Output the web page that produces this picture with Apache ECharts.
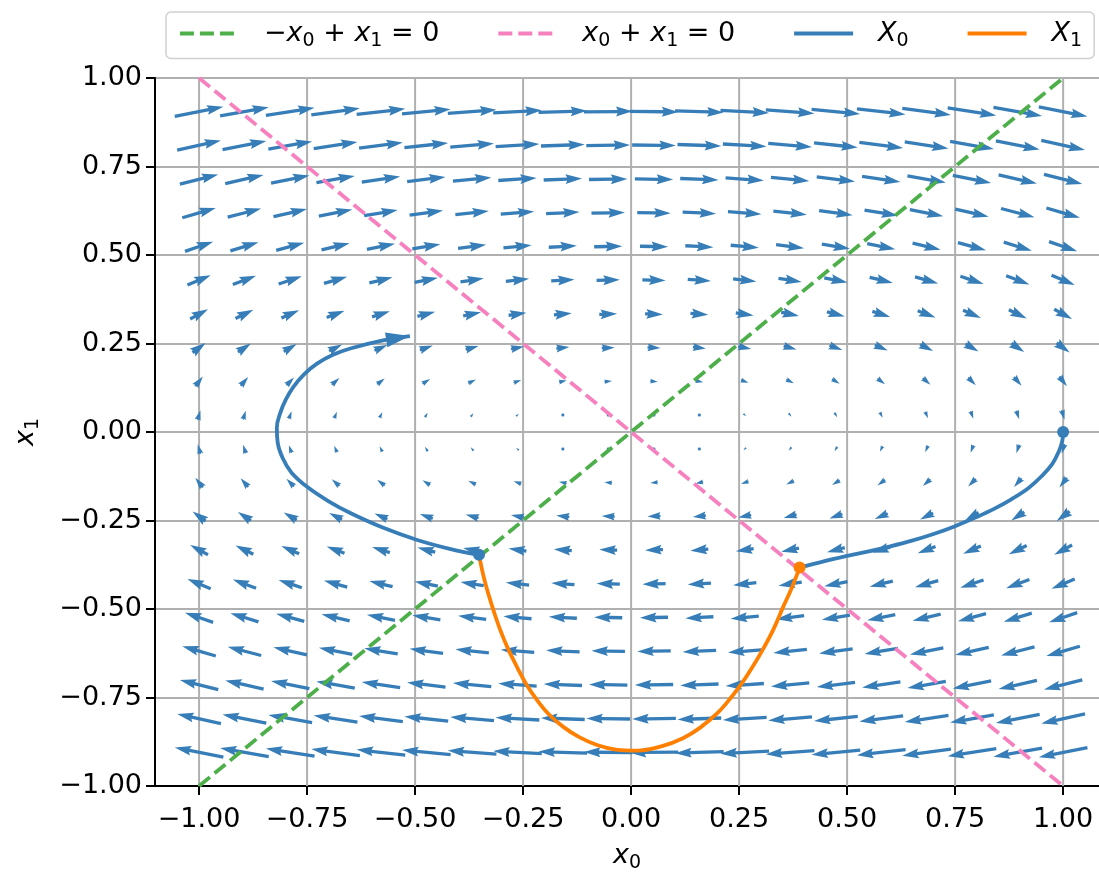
<!DOCTYPE html>
<html>
<head>
<meta charset="utf-8">
<script src="https://cdn.jsdelivr.net/npm/echarts@6/dist/echarts.min.js"></script>
<style>
  html, body { margin: 0; padding: 0; background: #fff; }
  #chart { width: 1099px; height: 873px; }
</style>
</head>
<body>
<div id="chart"></div>
<script>
// ---------- data ----------
// quiver grid (x0 columns, x1 rows)
const gridX0 = [-1.000, -0.895, -0.789, -0.684, -0.579, -0.474, -0.368, -0.263, -0.158, -0.053,
                 0.053,  0.158,  0.263,  0.368,  0.474,  0.579,  0.684,  0.789,  0.895,  1.000];
const gridX1 = [0.905, 0.810, 0.714, 0.619, 0.524, 0.429, 0.333, 0.238, 0.143, 0.048,
               -0.048, -0.143, -0.238, -0.333, -0.429, -0.524, -0.619, -0.714, -0.810, -0.905];
// horizontal component of arrows, per row (top to bottom)
const uByRow = [0.90, 0.81, 0.71, 0.62, 0.52, 0.43, 0.33, 0.24, 0.14, 0.05,
               -0.05, -0.14, -0.24, -0.33, -0.43, -0.52, -0.62, -0.71, -0.81, -0.90];
// vertical component of arrows, per column (left to right)
const vByCol = [0.180, 0.161, 0.142, 0.123, 0.104, 0.085, 0.066, 0.047, 0.028, 0.010,
               -0.010, -0.028, -0.047, -0.066, -0.085, -0.104, -0.123, -0.142, -0.161, -0.180];

// nullclines
const lineA = [[-1, -1], [1, 1]];   // -x0 + x1 = 0
const lineB = [[-1, 1], [1, -1]];   //  x0 + x1 = 0

// trajectories
const X0first = [[1.0, 0.0], [0.998, -0.025], [0.99, -0.055], [0.975, -0.09], [0.95, -0.125],
  [0.92, -0.158], [0.88, -0.19], [0.84, -0.217], [0.8, -0.24], [0.75, -0.266], [0.7, -0.288],
  [0.65, -0.307], [0.6, -0.323], [0.55, -0.337], [0.5, -0.35], [0.45, -0.364], [0.39, -0.383]];
const X1path = [[0.39, -0.383], [0.372, -0.44], [0.352, -0.494], [0.33, -0.556], [0.306, -0.612],
  [0.282, -0.662], [0.259, -0.705], [0.23, -0.752], [0.199, -0.795], [0.16, -0.835],
  [0.12, -0.865], [0.07, -0.888], [0.014, -0.9], [-0.035, -0.897], [-0.079, -0.884],
  [-0.12, -0.862], [-0.157, -0.833], [-0.19, -0.798], [-0.218, -0.757], [-0.243, -0.712],
  [-0.264, -0.664], [-0.285, -0.612], [-0.303, -0.559], [-0.318, -0.506], [-0.331, -0.455],
  [-0.342, -0.405], [-0.352, -0.347]];
const X0second = [[-0.352, -0.347], [-0.42, -0.33], [-0.495, -0.305], [-0.575, -0.27],
  [-0.65, -0.229], [-0.70, -0.196], [-0.75, -0.155], [-0.786, -0.115], [-0.806, -0.075],
  [-0.818, -0.03], [-0.82, 0.012], [-0.812, 0.054], [-0.799, 0.092], [-0.782, 0.127],
  [-0.757, 0.163], [-0.727, 0.193], [-0.69, 0.218], [-0.65, 0.236], [-0.574, 0.259],
  [-0.512, 0.271]];
const X0starts = [[1.0, 0.0], [-0.352, -0.347]];
const X1starts = [[0.39, -0.383]];

const tickVals = [-1, -0.75, -0.5, -0.25, 0, 0.25, 0.5, 0.75, 1];

// ---------- styling ----------
const BLUE = '#377eb8', ORANGE = '#ff7f00', GREEN = '#4daf4a', PINK = '#f781bf';
const FONT = 'DejaVu Sans';
const SCALE = 54;     // px per unit of arrow vector
const W = 3.3;        // shaft width px
const LW = 3.8;       // line width

const quiverData = [];
for (let j = 0; j < gridX1.length; j++) {
  for (let i = 0; i < gridX0.length; i++) {
    quiverData.push([gridX0[i], gridX1[j], uByRow[j], vByCol[i]]);
  }
}

function arrowPoints(cx, cy, dx, dy) {
  const L = Math.hypot(dx, dy);
  if (L < W) {
    const pts = [];
    for (let k = 0; k < 6; k++) {
      const t = k * Math.PI / 3;
      pts.push([cx + Math.cos(t) * 0.5 * W, cy + Math.sin(t) * 0.5 * W]);
    }
    return pts;
  }
  const Lw = L / W;
  let X, Y = [0.5, 0.5, 1.5, 0, -1.5, -0.5, -0.5];
  if (Lw >= 5) {
    X = [0, Lw - 4.5, Lw - 5, Lw, Lw - 5, Lw - 4.5, 0];
  } else {
    const s = Lw / 5;
    X = [0, 0.5, 0, 5, 0, 0.5, 0].map(v => v * s);
    Y = Y.map(v => v * s);
  }
  const tip = X[3];
  const ux = dx / L, uy = dy / L;
  return X.map((x, k) => {
    const xx = (x - tip / 2) * W, yy = Y[k] * W;
    return [cx + xx * ux - yy * uy, cy + xx * uy + yy * ux];
  });
}

function fmt(v) {
  const s = Math.abs(v).toFixed(2);
  return (v < 0 ? '\u2212' : '') + s;
}

const rich = {
  it: { fontFamily: FONT, fontStyle: 'italic', fontSize: 27, color: '#000' },
  rm: { fontFamily: FONT, fontSize: 27, color: '#000' },
  sub: { fontFamily: FONT, fontSize: 19, color: '#000', padding: [15, 0, 0, 0] },
  pad: { width: 20 }
};
const legendText = {
  'nullA': '{pad| }{rm|\u2212}{it|x}{sub|0}{rm| + }{it|x}{sub|1}{rm| = 0}',
  'nullB': '{pad| }{it|x}{sub|0}{rm| + }{it|x}{sub|1}{rm| = 0}',
  'X0': '{pad| }{it|X}{sub|0}',
  'X1': '{pad| }{it|X}{sub|1}'
};

const chart = echarts.init(document.getElementById('chart'), null, { renderer: 'canvas' });
chart.setOption({
  backgroundColor: '#fff',
  animation: false,
  textStyle: { fontFamily: FONT },
  grid: { left: 155, top: 78, width: 944, height: 708, containLabel: false, outerBoundsMode: 'none' },
  legend: {
    data: ['nullA', 'nullB', 'X0', 'X1'],
    left: 166, top: 12,
    padding: [8, 12, 8, 12],
    itemWidth: 59, itemHeight: 14, itemGap: 57,
    backgroundColor: 'rgba(255,255,255,0.8)',
    borderColor: '#d0d0d0', borderWidth: 1.5, borderRadius: 5,
    itemStyle: { opacity: 0 },
    lineStyle: { width: LW },
    formatter: name => legendText[name],
    textStyle: { rich: rich, fontSize: 27 },
    selectedMode: false
  },
  xAxis: {
    type: 'value', min: -1.102, max: 1.083,
    name: '{it|x}{sub|0}', nameLocation: 'middle', nameGap: 53,
    nameTextStyle: { rich: rich },
    axisLine: { onZero: false, lineStyle: { color: '#000', width: 2 } },
    axisTick: { customValues: tickVals, length: 9, lineStyle: { color: '#000', width: 2 } },
    axisLabel: { customValues: tickVals, formatter: fmt, fontSize: 27, color: '#000', fontFamily: FONT, margin: 20 },
    splitLine: { show: false }
  },
  yAxis: {
    type: 'value', min: -1, max: 1, interval: 0.25,
    name: '{it|x}{sub|1}', nameLocation: 'middle', nameGap: 112, nameRotate: 90,
    nameTextStyle: { rich: rich },
    axisLine: { onZero: false, lineStyle: { color: '#000', width: 2 } },
    axisTick: { length: 9, lineStyle: { color: '#000', width: 2 } },
    axisLabel: { formatter: fmt, fontSize: 27, color: '#000', fontFamily: FONT, margin: 13 },
    splitLine: { lineStyle: { color: '#b0b0b0', width: 2 } }
  },
  series: [
    {
      type: 'custom', name: 'xgrid', silent: true, z: 1,
      data: tickVals.map(v => [v]),
      encode: { x: 0 },
      renderItem: (params, api) => {
        const p0 = api.coord([api.value(0), -1]);
        const p1 = api.coord([api.value(0), 1]);
        return { type: 'line', shape: { x1: p0[0], y1: p0[1], x2: p1[0], y2: p1[1] },
                 style: { stroke: '#b0b0b0', lineWidth: 2 } };
      }
    },
    {
      type: 'custom', name: 'quiver', silent: true, z: 2,
      data: quiverData,
      encode: { x: 0, y: 1 },
      renderItem: (params, api) => {
        const c = api.coord([api.value(0), api.value(1)]);
        const dx = api.value(2) * SCALE, dy = -api.value(3) * SCALE;
        return { type: 'polygon', shape: { points: arrowPoints(c[0], c[1], dx, dy) },
                 style: { fill: BLUE } };
      }
    },
    {
      type: 'line', name: 'nullA', data: lineA, symbol: 'none', z: 3,
      lineStyle: { color: GREEN, width: LW, type: [14, 6] }, itemStyle: { color: GREEN }
    },
    {
      type: 'line', name: 'nullB', data: lineB, symbol: 'none', z: 3,
      lineStyle: { color: PINK, width: LW, type: [14, 6] }, itemStyle: { color: PINK }
    },
    {
      type: 'line', name: 'X0', data: X0first, symbol: 'none', smooth: 0.4, z: 4,
      lineStyle: { color: BLUE, width: LW }, itemStyle: { color: BLUE }
    },
    {
      type: 'line', name: 'X1', data: X1path, symbol: 'none', smooth: 0.4, z: 4,
      lineStyle: { color: ORANGE, width: LW }, itemStyle: { color: ORANGE }
    },
    {
      type: 'scatter', name: 'X1start', data: X1starts, symbolSize: 12, z: 4,
      itemStyle: { color: ORANGE, opacity: 1 }
    },
    {
      type: 'line', name: 'X0', data: X0second, symbol: 'none', smooth: 0.4, z: 4,
      lineStyle: { color: BLUE, width: LW }, itemStyle: { color: BLUE }
    },
    {
      type: 'scatter', name: 'X0start', data: X0starts, symbolSize: 12, z: 4,
      itemStyle: { color: BLUE, opacity: 1 }
    },
    {
      type: 'custom', name: 'X0head', silent: true, z: 5,
      data: [X0second[X0second.length - 1].concat(X0second[X0second.length - 2])],
      encode: { x: 0, y: 1 },
      renderItem: (params, api) => {
        const tip = api.coord([api.value(0), api.value(1)]);
        const prev = api.coord([api.value(2), api.value(3)]);
        let dx = tip[0] - prev[0], dy = tip[1] - prev[1];
        const L = Math.hypot(dx, dy); dx /= L; dy /= L;
        const hl = 24, hw = 7.5;
        const bx = tip[0] - dx * hl, by = tip[1] - dy * hl;
        return { type: 'polygon', shape: { points: [
          [tip[0], tip[1]], [bx - dy * hw, by + dx * hw], [bx + dy * hw, by - dx * hw]] },
          style: { fill: BLUE } };
      }
    }
  ]
});
</script>
</body>
</html>
